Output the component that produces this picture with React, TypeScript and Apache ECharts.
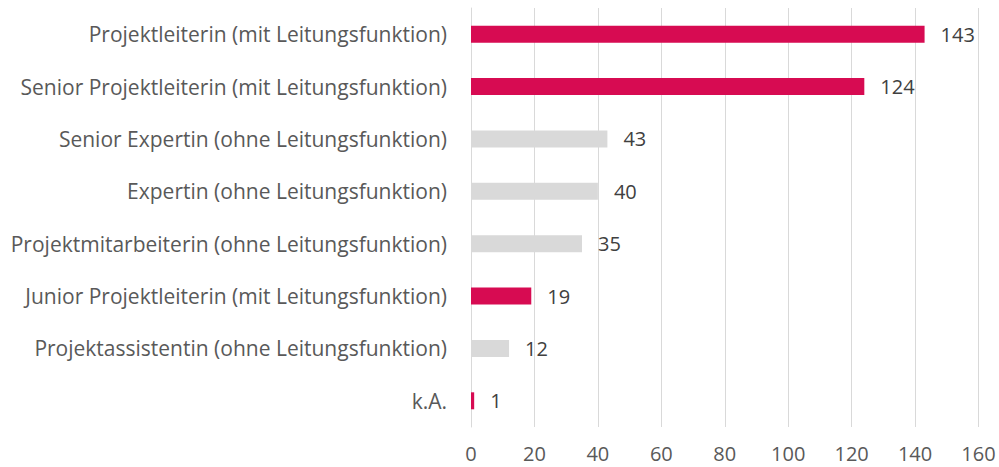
import React, { useEffect, useRef } from "react";
import * as echarts from "echarts";

const categories = [
  "Projektleiterin (mit Leitungsfunktion)",
  "Senior Projektleiterin (mit Leitungsfunktion)",
  "Senior Expertin (ohne Leitungsfunktion)",
  "Expertin (ohne Leitungsfunktion)",
  "Projektmitarbeiterin (ohne Leitungsfunktion)",
  "Junior Projektleiterin (mit Leitungsfunktion)",
  "Projektassistentin (ohne Leitungsfunktion)",
  "k.A.",
];
const values = [143, 124, 43, 40, 35, 19, 12, 1];
const highlighted = [true, true, false, false, false, true, false, true];
const xTicks = { min: 0, max: 160, interval: 20 };

const RED = "#D70B52";
const GREY = "#D9D9D9";
const FONT = "Open Sans";

export default function App() {
  const ref = useRef<HTMLDivElement>(null);
  useEffect(() => {
    if (!ref.current) return;
    const chart = echarts.init(ref.current, undefined, { renderer: "svg" });
    chart.setOption({
      animation: false,
      grid: { left: 471, right: 20.5, top: 8, bottom: 40, containLabel: false },
      xAxis: {
        type: "value",
        min: xTicks.min,
        max: xTicks.max,
        interval: xTicks.interval,
        axisLine: { show: false },
        axisTick: { show: false },
        splitLine: { show: true, lineStyle: { color: GREY, width: 1 } },
        axisLabel: { color: "#595959", fontFamily: FONT, fontSize: 20, margin: 16 },
      },
      yAxis: {
        type: "category",
        data: categories,
        inverse: true,
        axisLine: { show: true, lineStyle: { color: GREY, width: 1 } },
        axisTick: { show: false },
        axisLabel: { color: "#595959", fontFamily: FONT, fontSize: 21, margin: 24 },
      },
      series: [
        {
          type: "bar",
          barWidth: 17,
          data: values.map((v, i) => ({
            value: v,
            itemStyle: { color: highlighted[i] ? RED : GREY },
          })),
          label: {
            show: true,
            position: "right",
            distance: 16,
            color: "#404040",
            fontFamily: FONT,
            fontSize: 20,
          },
        },
      ],
    });
    return () => chart.dispose();
  }, []);
  return (
    <div
      ref={ref}
      style={{ position: "absolute", left: 0, top: 0, width: 999, height: 467 }}
    />
  );
}
